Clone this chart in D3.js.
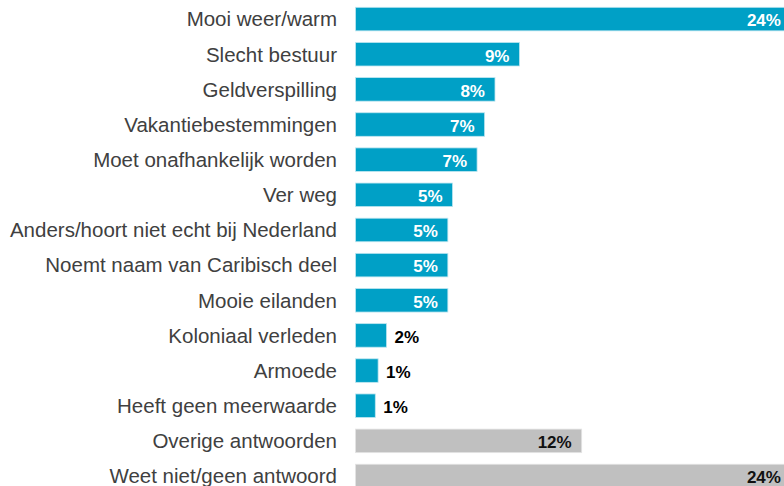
<!DOCTYPE html>
<html>
<head>
<meta charset="utf-8">
<script src="https://cdn.jsdelivr.net/npm/d3@7"></script>
<style>
  body { margin: 0; background: #fff; }
  svg { display: block; }
</style>
</head>
<body>
<script>
// answers, top to bottom
var categories = [
    "Mooi weer/warm",
    "Slecht bestuur",
    "Geldverspilling",
    "Vakantiebestemmingen",
    "Moet onafhankelijk worden",
    "Ver weg",
    "Anders/hoort niet echt bij Nederland",
    "Noemt naam van Caribisch deel",
    "Mooie eilanden",
    "Koloniaal verleden",
    "Armoede",
    "Heeft geen meerwaarde",
    "Overige antwoorden",
    "Weet niet/geen antwoord"
];

// bar lengths (percent)
var values = [23.1, 8.7, 7.4, 6.85, 6.45, 5.15, 4.9, 4.9, 4.9, 1.65, 1.2, 1.05, 12.0, 23.1];

// printed labels
var valueLabels = ["24%", "9%", "8%", "7%", "7%", "5%", "5%", "5%", "5%", "2%", "1%", "1%", "12%", "24%"];

// last two rows are the grey "other" group
var groups = ["main", "main", "main", "main", "main", "main", "main", "main", "main", "main", "main", "main", "other", "other"];

var width = 784, height = 486;
var blue = "#00a0c6", grey = "#c0c0c0";

var svg = d3.select("body").append("svg")
    .attr("width", width)
    .attr("height", height);

var rows = categories.map(function(c, i) {
    return { name: c, value: values[i], label: valueLabels[i], group: groups[i] };
});

var y = d3.scaleBand()
    .domain(categories)
    .range([1.5, 493.6])
    .paddingInner(0.33)
    .paddingOuter(0.165);

var x = d3.scaleLinear()
    .domain([0, 24])
    .range([355.5, 355.5 + 18.85 * 24]);

// category labels
svg.append("g").selectAll("text")
    .data(rows)
    .enter()
    .append("text")
    .attr("x", 337)
    .attr("y", function(d) { return y(d.name) + y.bandwidth() / 2 + 7.3; })
    .attr("text-anchor", "end")
    .attr("font-family", "Liberation Sans, Arial, sans-serif")
    .attr("font-size", 20.5)
    .attr("fill", "#404040")
    .text(function(d) { return d.name; });

// bars
svg.append("g").selectAll("rect")
    .data(rows)
    .enter()
    .append("rect")
    .attr("x", x(0))
    .attr("y", function(d) { return y(d.name); })
    .attr("width", function(d) { return x(d.value) - x(0); })
    .attr("height", y.bandwidth())
    .attr("fill", function(d) { return d.group === "other" ? grey : blue; })
    .attr("stroke", function(d) { return d.group === "other" ? "#e4e4e4" : "#bfe6f0"; })
    .attr("stroke-width", 0.8);

// value labels: inside for long bars, outside for short ones
function inside(d) { return d.value >= 3; }

svg.append("g").selectAll("text")
    .data(rows)
    .enter()
    .append("text")
    .attr("x", function(d) { return inside(d) ? x(d.value) - 10 : x(d.value) + 8; })
    .attr("y", function(d) { return y(d.name) + y.bandwidth() / 2 + 7.3; })
    .attr("text-anchor", function(d) { return inside(d) ? "end" : "start"; })
    .attr("font-family", "Liberation Sans, Arial, sans-serif")
    .attr("font-size", 17)
    .attr("font-weight", "bold")
    .attr("fill", function(d) {
        if (!inside(d)) return "#000";
        return d.group === "other" ? "#111" : "#fff";
    })
    .text(function(d) { return d.label; });
</script>
</body>
</html>
